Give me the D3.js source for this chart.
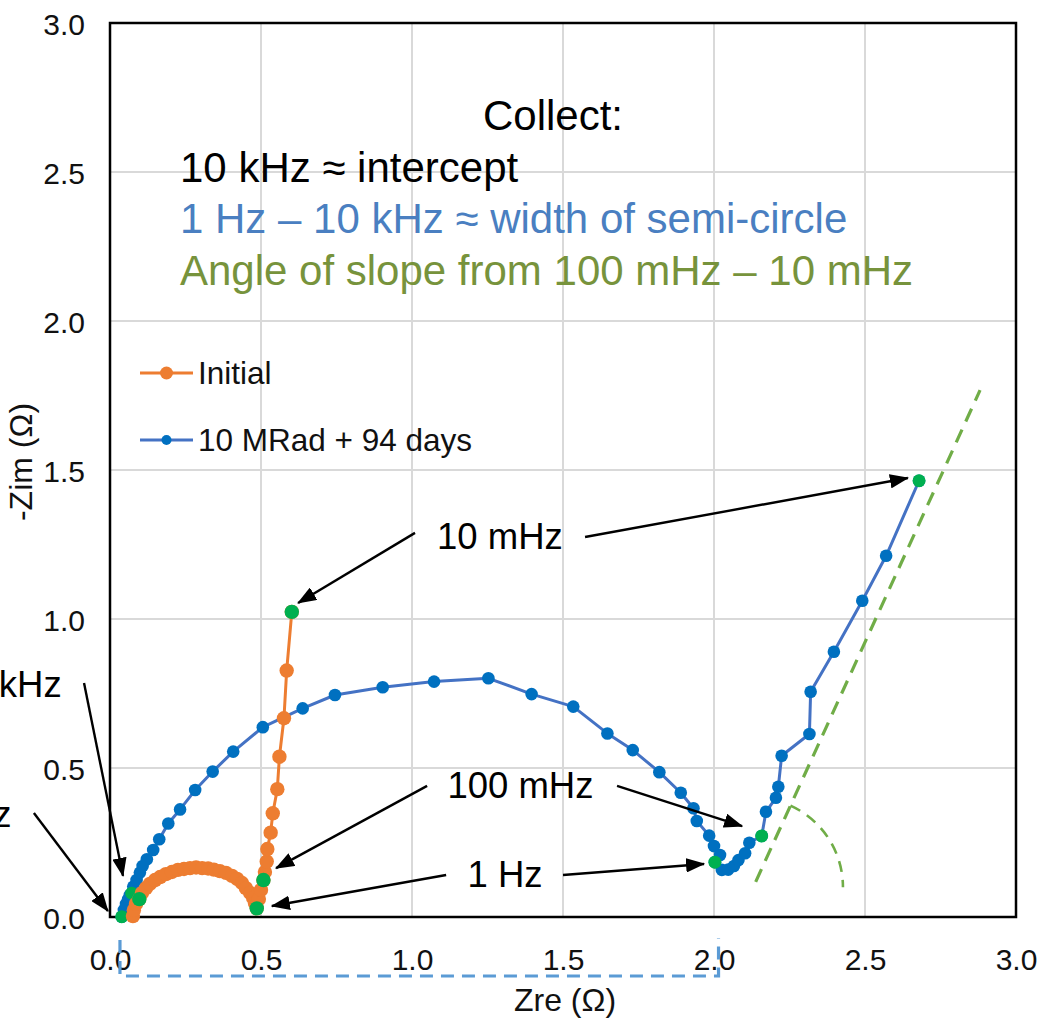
<!DOCTYPE html>
<html>
<head>
<meta charset="utf-8">
<script src="https://cdn.jsdelivr.net/npm/d3@7"></script>
<style>
  body { margin: 0; background: #fff; }
  svg { display: block; }
  text { font-family: "Liberation Sans", Arial, sans-serif; }
</style>
</head>
<body>
<svg id="chart" width="1051" height="1024"></svg>
<script>
// ---- Nyquist data (Zre, -Zim in ohms) ----
const xTicks = [0, 0.5, 1.0, 1.5, 2.0, 2.5, 3.0];
const yTicks = [0, 0.5, 1.0, 1.5, 2.0, 2.5, 3.0];
const seriesNames = ["Initial", "10 MRad + 94 days"];

const initialZre = [0.076, 0.079, 0.086, 0.097, 0.106, 0.119, 0.132, 0.149, 0.166, 0.185,
  0.205, 0.225, 0.245, 0.265, 0.285, 0.305, 0.325, 0.344, 0.364, 0.384,
  0.404, 0.421, 0.437, 0.450, 0.464, 0.474, 0.480, 0.486, 0.493, 0.500,
  0.508, 0.513, 0.519, 0.521, 0.532, 0.539, 0.554, 0.561, 0.576, 0.585, 0.602];
const initialZim = [0.003, 0.023, 0.044, 0.060, 0.081, 0.097, 0.111, 0.124, 0.134, 0.144,
  0.151, 0.158, 0.161, 0.164, 0.166, 0.164, 0.163, 0.159, 0.154, 0.148,
  0.138, 0.128, 0.114, 0.097, 0.081, 0.064, 0.047, 0.029, 0.060, 0.091,
  0.124, 0.151, 0.186, 0.228, 0.283, 0.348, 0.429, 0.538, 0.667, 0.827, 1.024];

const irradiatedZre = [0.039, 0.046, 0.053, 0.060, 0.066, 0.072, 0.077, 0.088, 0.099, 0.108,
  0.122, 0.143, 0.163, 0.193, 0.232, 0.282, 0.340, 0.408, 0.506, 0.638,
  0.745, 0.903, 1.073, 1.253, 1.396, 1.534, 1.647, 1.731, 1.819, 1.890,
  1.932, 1.943, 1.984, 2.000, 2.020, 2.003, 2.026, 2.047, 2.066, 2.081,
  2.103, 2.117, 2.158, 2.172, 2.205, 2.213, 2.224, 2.316, 2.320, 2.397,
  2.491, 2.570, 2.679];
const irradiatedZim = [0.001, 0.024, 0.044, 0.060, 0.074, 0.080, 0.102, 0.124, 0.149, 0.171,
  0.194, 0.225, 0.261, 0.314, 0.361, 0.426, 0.488, 0.555, 0.637, 0.700,
  0.745, 0.771, 0.790, 0.801, 0.748, 0.706, 0.616, 0.560, 0.486, 0.417,
  0.365, 0.322, 0.273, 0.238, 0.208, 0.184, 0.158, 0.159, 0.171, 0.191,
  0.214, 0.249, 0.272, 0.353, 0.400, 0.437, 0.541, 0.614, 0.756, 0.890,
  1.061, 1.212, 1.464];

// Indices of the frequencies picked out in green
const markedInitial = [3, 27, 30, 40];      // 10 kHz, 1 Hz, 100 mHz, 10 mHz
const markedIrradiated = [0, 5, 35, 42, 52]; // 10 kHz, 1 kHz, 1 Hz, 100 mHz, 10 mHz

// Low-frequency slope guide (Zre, -Zim) and semicircle-width bracket ends
const slopeGuideZre = [2.138, 2.881];
const slopeGuideZim = [0.118, 1.768];
const angleArcCenter = [2.13, 0.10];
const angleArcEndZre = 2.427;
const widthBracketZre = [0.033, 2.015];

// Summary text block
const summaryLines = [
  { text: "10 kHz \u2248 intercept", color: "#000000" },
  { text: "1 Hz \u2013 10 kHz \u2248 width of semi-circle", color: "#4a7fc1" },
  { text: "Angle of slope from 100 mHz \u2013 10 mHz", color: "#77933c" }
];

// Frequency callouts: label anchor and arrow tails/tips, in data units
const callouts = [
  { label: "10 mHz", at: [1.291, 1.235], anchor: "middle",
    arrows: [[[1.010, 1.289], [0.623, 1.054]], [[1.573, 1.275], [2.642, 1.473]]] },
  { label: "100 mHz", at: [1.359, 0.399], anchor: "middle",
    arrows: [[[1.050, 0.440], [0.550, 0.164]], [[1.679, 0.440], [2.093, 0.305]]] },
  { label: "1 Hz", at: [1.308, 0.102], anchor: "middle",
    arrows: [[[1.113, 0.141], [0.536, 0.037]], [[1.500, 0.141], [1.967, 0.178]]] },
  { label: "1 kHz", at: [-0.160, 0.739], anchor: "end",
    arrows: [[[-0.086, 0.785], [0.043, 0.138]]] },
  { label: "10 kHz", at: [-0.326, 0.303], anchor: "end",
    arrows: [[[-0.252, 0.349], [-0.007, 0.020]]] }
];

// ---- layout ----
const svg = d3.select("#chart");
const plot = { left: 110, top: 23, right: 1016, bottom: 917 };
const x = d3.scaleLinear().domain([0, 3]).range([plot.left, plot.right]);
const y = d3.scaleLinear().domain([0, 3]).range([plot.bottom, plot.top]);

const ORANGE = "#ed7d31", BLUE_LINE = "#4472c4", BLUE_DOT = "#0070c0", GREEN = "#00b050";

svg.append("defs").append("marker")
  .attr("id", "arrowhead")
  .attr("viewBox", "0 0 16 12")
  .attr("refX", 15).attr("refY", 6)
  .attr("markerWidth", 8).attr("markerHeight", 6)
  .attr("orient", "auto")
  .append("path").attr("d", "M0,0 L16,6 L0,12 Z").attr("fill", "#000");

// gridlines
const grid = svg.append("g").attr("stroke", "#d9d9d9").attr("stroke-width", 2);
grid.selectAll("line.v").data(xTicks.slice(1, -1)).join("line")
  .attr("x1", d => x(d)).attr("x2", d => x(d))
  .attr("y1", plot.top).attr("y2", plot.bottom);
grid.selectAll("line.h").data(yTicks.slice(1, -1)).join("line")
  .attr("x1", plot.left).attr("x2", plot.right)
  .attr("y1", d => y(d)).attr("y2", d => y(d));

// axes tick labels
const fmt = d3.format(".1f");
const xAxis = svg.append("g").attr("transform", `translate(0,${plot.bottom})`)
  .call(d3.axisBottom(x).tickValues(xTicks).tickFormat(fmt).tickSize(0).tickPadding(32));
const yAxis = svg.append("g").attr("transform", `translate(${plot.left},0)`)
  .call(d3.axisLeft(y).tickValues(yTicks).tickFormat(fmt).tickSize(0).tickPadding(25));
[xAxis, yAxis].forEach(g => {
  g.select(".domain").remove();
  g.selectAll("text").attr("font-size", 30).attr("fill", "#111")
    .attr("font-family", "'Liberation Sans', Arial, sans-serif");
});
yAxis.selectAll("text").attr("dy", "0.37em");

// plot frame
svg.append("rect")
  .attr("x", plot.left).attr("y", plot.top)
  .attr("width", plot.right - plot.left).attr("height", plot.bottom - plot.top)
  .attr("fill", "none").attr("stroke", "#000").attr("stroke-width", 2.5);

// axis titles
svg.append("text").attr("x", 565).attr("y", 1011).attr("text-anchor", "middle")
  .attr("font-size", 32).attr("fill", "#111").text("Zre (\u03A9)");
svg.append("text").attr("transform", "translate(32,462) rotate(-90)")
  .attr("text-anchor", "middle").attr("font-size", 32).attr("fill", "#111").text("-Zim (\u03A9)");

// slope guide + angle arc
svg.append("line")
  .attr("x1", x(slopeGuideZre[0])).attr("y1", y(slopeGuideZim[0]))
  .attr("x2", x(slopeGuideZre[1])).attr("y2", y(slopeGuideZim[1]))
  .attr("stroke", "#70ad47").attr("stroke-width", 3.2).attr("stroke-dasharray", "14 9");
{
  const cx = x(angleArcCenter[0]), cy = y(angleArcCenter[1]);
  const r = x(angleArcEndZre) - cx;
  const ang = Math.atan2(y(slopeGuideZim[0]) - y(slopeGuideZim[1]),
                         x(slopeGuideZre[1]) - x(slopeGuideZre[0]));
  const sx = cx + r * Math.cos(ang), sy = cy - r * Math.sin(ang);
  svg.append("path")
    .attr("d", `M${sx},${sy} A${r},${r} 0 0 1 ${cx + r},${cy}`)
    .attr("fill", "none").attr("stroke", "#70ad47").attr("stroke-width", 2.6)
    .attr("stroke-dasharray", "11 8");
}

// width bracket under the axis
{
  const x0 = x(widthBracketZre[0]), x1 = x(widthBracketZre[1]);
  svg.append("path")
    .attr("d", `M${x0},940 L${x0},976 L${x1},976 L${x1},938`)
    .attr("fill", "none").attr("stroke", "#5b9bd5").attr("stroke-width", 3.2)
    .attr("stroke-dasharray", "13 8");
}

// series
function drawSeries(zre, zim, lineColor, dotColor, r, marked, greenR) {
  const pts = zre.map((v, i) => [v, zim[i]]);
  const g = svg.append("g");
  g.append("path").datum(pts)
    .attr("d", d3.line().x(d => x(d[0])).y(d => y(d[1])))
    .attr("fill", "none").attr("stroke", lineColor).attr("stroke-width", 3)
    .attr("stroke-linejoin", "round");
  g.selectAll("circle.pt").data(pts).join("circle")
    .attr("cx", d => x(d[0])).attr("cy", d => y(d[1])).attr("r", r).attr("fill", dotColor);
  return { g, pts, marked, greenR };
}
const sIrr = drawSeries(irradiatedZre, irradiatedZim, BLUE_LINE, BLUE_DOT, 6.3, markedIrradiated, 6.5);
const sIni = drawSeries(initialZre, initialZim, ORANGE, ORANGE, 7.2, markedInitial, 7.2);
[sIrr, sIni].forEach(s => {
  s.g.selectAll("circle.mk").data(s.marked.map(i => s.pts[i])).join("circle")
    .attr("cx", d => x(d[0])).attr("cy", d => y(d[1])).attr("r", s.greenR).attr("fill", GREEN);
});

// legend
const legend = svg.append("g");
[[ORANGE, ORANGE, 6.5, 373], [BLUE_LINE, BLUE_DOT, 5, 440]].forEach(([lc, dc, r, ly], i) => {
  legend.append("line").attr("x1", 140).attr("x2", 193).attr("y1", ly).attr("y2", ly)
    .attr("stroke", lc).attr("stroke-width", 3);
  legend.append("circle").attr("cx", 166.5).attr("cy", ly).attr("r", r).attr("fill", dc);
  legend.append("text").attr("x", 198).attr("y", ly + 11).attr("font-size", 31.5)
    .attr("fill", "#111").text(seriesNames[i]);
});

// summary block
svg.append("text").attr("x", 553).attr("y", 130).attr("text-anchor", "middle")
  .attr("font-size", 42).attr("fill", "#000").text("Collect:");
summaryLines.forEach((l, i) => {
  svg.append("text").attr("x", 180).attr("y", 181.5 + i * 51.5)
    .attr("font-size", 42).attr("fill", l.color).text(l.text);
});

// frequency callouts
callouts.forEach(c => {
  svg.append("text").attr("x", x(c.at[0])).attr("y", y(c.at[1]))
    .attr("text-anchor", c.anchor).attr("font-size", 36.5).attr("fill", "#000").text(c.label);
  c.arrows.forEach(([from, to]) => {
    svg.append("line")
      .attr("x1", x(from[0])).attr("y1", y(from[1]))
      .attr("x2", x(to[0])).attr("y2", y(to[1]))
      .attr("stroke", "#000").attr("stroke-width", 2.4)
      .attr("marker-end", "url(#arrowhead)");
  });
});
</script>
</body>
</html>
